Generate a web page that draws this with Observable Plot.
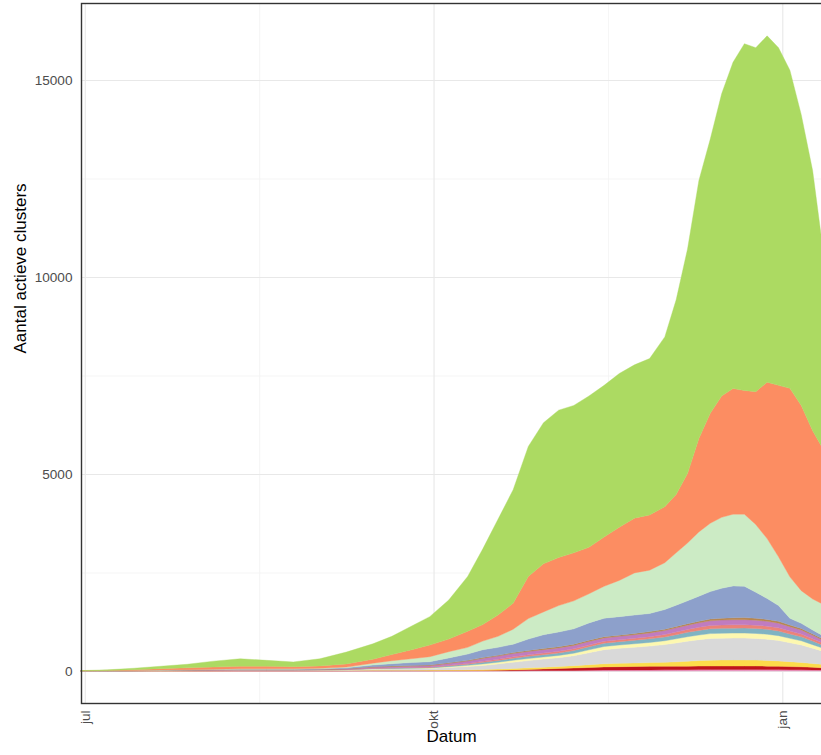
<!DOCTYPE html>
<html><head><meta charset="utf-8">
<script src="https://cdn.jsdelivr.net/npm/d3@7"></script>
<script src="https://cdn.jsdelivr.net/npm/@observablehq/plot@0.6"></script>
<style>
html,body{margin:0;padding:0;background:#fff;overflow:hidden}
#chart{width:821px;height:755px;overflow:hidden;position:relative}
#chart svg{max-width:none !important;}
</style></head><body><div id="chart"></div>
<script>
// ---- data ----
const dates = ["2020-06-30","2020-07-07","2020-07-14","2020-07-21","2020-07-28","2020-08-04","2020-08-11","2020-08-18","2020-08-25","2020-09-01","2020-09-08","2020-09-15","2020-09-20","2020-09-25","2020-09-30","2020-10-05","2020-10-10","2020-10-14","2020-10-18","2020-10-22","2020-10-26","2020-10-30","2020-11-03","2020-11-07","2020-11-11","2020-11-15","2020-11-19","2020-11-23","2020-11-27","2020-12-01","2020-12-04","2020-12-07","2020-12-10","2020-12-13","2020-12-16","2020-12-19","2020-12-22","2020-12-25","2020-12-28","2020-12-31","2021-01-03","2021-01-06","2021-01-09","2021-01-12"];

// layers from bottom to top
const layerNames = ["pink","donkerrood","geel","grijs","lichtgeel","teal","zalm","paars","bruin","blauw","lichtgroen","oranje","groen"];
const layerColors = ["#e996c0","#c0141c","#fddc4a","#d9d9d9","#fdf8b0","#80b3c2","#ec8378","#c07cc0","#b8864e","#8da0cb","#ccebc5","#fc8d62","#acda62"];

const pink = [0,0,0,1,1,1,2,2,2,2, 2,3,3,3,3,4,4,5,6,8, 10,12,14,16,20,24,25,27,28,30, 33,35,37,38,40,40,40,40,38,36, 34,32,28,24];
const donkerrood = [0,1,2,3,4,5,6,6,6,6, 7,8,8,8,8,9,9,10,14,20, 30,40,50,60,70,80,85,88,90,90, 90,88,88,88,87,87,87,87,85,82, 78,74,66,58];
const geel = [0,0,1,2,3,4,5,5,5,5, 6,9,10,11,12,15,20,25,30,35, 40,45,50,60,70,80,85,88,95,100, 110,125,140,150,153,153,153,150,145,138, 125,112,95,80];
const grijs = [0,1,2,3,4,5,7,7,7,9, 13,25,30,35,40,60,80,100,128,160, 185,205,223,253,305,358,380,400,420,450, 480,510,530,550,550,555,555,550,540,520, 480,445,390,330];
const lichtgeel = [0,0,0,1,1,2,2,2,2,3, 4,10,12,13,14,22,30,40,45,50, 52,55,58,62,72,80,85,88,92,98, 105,112,118,123,127,127,127,127,125,120, 112,104,90,77];
const teal = [0,0,1,1,2,2,3,3,3,3, 4,10,12,13,14,22,30,40,45,52, 55,58,62,68,78,84,85,88,92,98, 105,112,118,123,126,126,127,126,124,120, 112,104,90,77];
const zalm = [0,0,0,1,1,2,2,2,2,2, 3,7,8,9,10,14,18,25,30,35, 38,42,44,46,48,50,50,52,55,60, 66,72,78,82,84,84,84,84,82,80, 74,68,60,50];
const paars = [1,1,2,3,4,5,6,6,6,7, 10,24,27,31,33,46,60,75,80,85, 85,85,85,85,85,84,85,90,95,100, 106,110,114,120,125,128,130,126,122,118, 110,102,87,74];
const bruin = [1,2,2,3,5,6,7,7,7,8, 11,14,15,17,18,18,19,20,22,25, 25,28,29,30,32,30,30,32,33,34, 35,36,37,46,48,50,52,50,49,46, 42,39,34,30];
const blauw = [0,1,2,2,5,6,5,5,5,10, 20,40,60,75,84,120,160,200,200,210, 290,350,375,390,440,470,470,467,460,500, 540,580,640,695,760,810,795,660,530,400, 170,130,100,80];
const lichtgroen = [1,2,3,5,5,7,10,10,10,15, 20,50,75,95,127,160,170,220,280,380, 520,580,670,710,740,810,920,1070,1100,1190, 1330,1470,1630,1735,1800,1820,1830,1720,1520,1240, 1053,830,790,800];
const oranje = [2,7,20,35,45,55,65,65,55,60, 80,100,160,225,297,320,410,420,540,660, 1070,1220,1220,1220,1180,1250,1350,1390,1400,1420, 1480,1760,2370,2790,3080,3190,3140,3370,3970,4350, 4785,4700,4270,3910];
const groen = [5,15,35,60,90,150,190,150,120,180, 300,390,460,595,720,990,1390,1920,2430,2880, 3300,3580,3740,3740,3840,3850,3900,3890,3970,4310, 4940,5700,6550,6960,7670,8280,8800,8730,8790,8570, 8075,7380,6600,4910];

const seriesValues = [pink, donkerrood, geel, grijs, lichtgeel, teal, zalm, paars, bruin, blauw, lichtgroen, oranje, groen];

const xTickDates = ["2020-07-01","2020-10-01","2021-01-01"];
const xTickLabels = ["jul","okt","jan"];
const xMinorDates = ["2020-08-16","2020-11-16"];
const yTicks = [0, 5000, 10000, 15000];
const yMinor = [2500, 7500, 12500];
const xTitle = "Datum";
const yTitle = "Aantal actieve clusters";

// ---- build ----
const parse = d3.utcParse("%Y-%m-%d");
const rows = [];
layerNames.forEach((name, i) => {
  seriesValues[i].forEach((v, j) => rows.push({date: parse(dates[j]), layer: name, value: v}));
});
const labelMap = new Map(xTickDates.map((d, i) => [+parse(d), xTickLabels[i]]));

const chart = Plot.plot({
  width: 830, height: 755,
  marginLeft: 81, marginRight: 0, marginTop: 3, marginBottom: 52,
  style: {fontFamily: "'Liberation Sans', Arial, sans-serif", background: "#fff", maxWidth: "none"},
  x: {type: "utc", domain: [parse("2020-06-30"), new Date(Date.UTC(2021, 0, 13, 14))]},
  y: {domain: [-812, 16954]},
  color: {domain: layerNames, range: layerColors},
  marks: [
    Plot.ruleY(yMinor, {stroke: "#f3f3f3", strokeWidth: 0.8}),
    Plot.ruleX(xMinorDates.map(parse), {stroke: "#f3f3f3", strokeWidth: 0.8}),
    Plot.ruleY(yTicks, {stroke: "#e8e8e8", strokeWidth: 1.1}),
    Plot.ruleX(xTickDates.map(parse), {stroke: "#e8e8e8", strokeWidth: 1.1}),
    Plot.areaY(rows, {x: "date", y: "value", z: "layer", fill: "layer", stroke: "layer", strokeWidth: 0.4, order: layerNames}),
    Plot.frame({stroke: "#333", strokeWidth: 1.4}),
    Plot.axisY(yTicks, {tickSize: 0, tickPadding: 9, fontSize: 13.6, fill: "#4d4d4d", label: null, tickFormat: d3.format("d")}),
    Plot.axisX(xTickDates.map(parse), {tickSize: 0, tickPadding: 7, tickRotate: -90, fontSize: 13.6, fill: "#4d4d4d", label: null, tickFormat: d => labelMap.get(+d)}),
    Plot.text([yTitle], {text: d => d, frameAnchor: "left", dx: -61, rotate: -90, fontSize: 17, fill: "#000"}),
    Plot.text([xTitle], {text: d => d, frameAnchor: "bottom", dy: 38, dx: -4.5, fontSize: 17, fill: "#000"})
  ]
});
document.getElementById("chart").appendChild(chart);
</script>
</body></html>
